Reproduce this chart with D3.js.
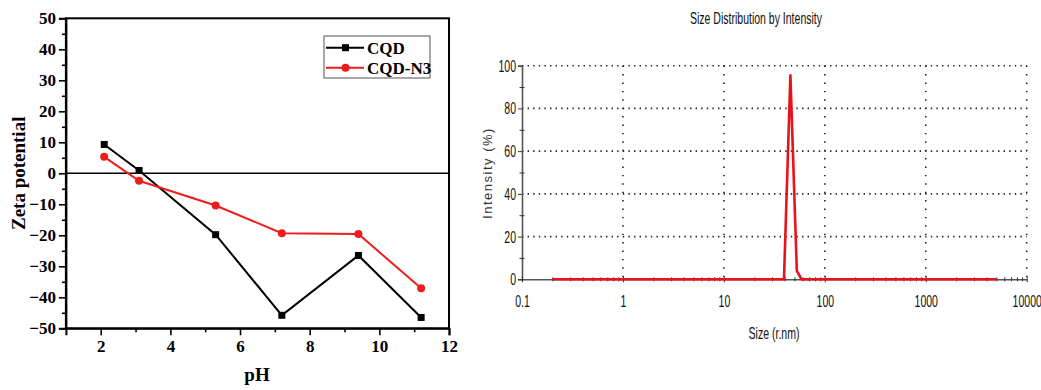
<!DOCTYPE html>
<html>
<head>
<meta charset="utf-8">
<script src="https://cdn.jsdelivr.net/npm/d3@7"></script>
<style>
  html, body { margin: 0; padding: 0; background: #fff; }
  svg { display: block; }
</style>
</head>
<body>
<svg id="fig" width="1041" height="390"></svg>
<script>
// ---- Zeta potential vs pH ----
const phCQD = [2.1, 3.1, 5.3, 7.2, 9.4, 11.2];
const zetaCQD = [9.3, 0.9, -19.8, -45.8, -26.5, -46.5];
const phCQDN3 = [2.1, 3.1, 5.3, 7.2, 9.4, 11.2];
const zetaCQDN3 = [5.3, -2.4, -10.4, -19.3, -19.6, -37.1];
const phTicks = [2, 4, 6, 8, 10, 12];
const zetaTicks = [-50, -40, -30, -20, -10, 0, 10, 20, 30, 40, 50];
const seriesNames = ["CQD", "CQD-N3"];

// ---- Size distribution by intensity ----
const sizeNm = [0.2, 39.4, 45.6, 52.8, 58.8, 5000];
const intensityPct = [0, 0, 95.5, 4, 0, 0];
const sizeTicks = [0.1, 1, 10, 100, 1000, 10000];
const intensityTicks = [0, 20, 40, 60, 80, 100];

const svg = d3.select("#fig");

/* ================= Left panel ================= */
const serif = "'Liberation Serif', 'Times New Roman', serif";
const xL = d3.scaleLinear().domain([1, 12]).range([65.9, 449]);
const yL = d3.scaleLinear().domain([-50, 50]).range([328.3, 18.3]);
const gL = svg.append("g");

// frame
gL.append("rect")
  .attr("x", xL(1)).attr("y", yL(50))
  .attr("width", xL(12) - xL(1)).attr("height", yL(-50) - yL(50))
  .attr("fill", "none").attr("stroke", "#000").attr("stroke-width", 2);

// zero line
gL.append("line")
  .attr("x1", xL(1)).attr("x2", xL(12))
  .attr("y1", yL(0)).attr("y2", yL(0))
  .attr("stroke", "#000").attr("stroke-width", 1.6);

// y axis: major ticks + minor ticks
gL.append("g").attr("transform", `translate(${xL(1)},0)`)
  .call(d3.axisLeft(yL).tickValues(zetaTicks).tickSize(7).tickPadding(3));
gL.append("g").attr("transform", `translate(${xL(1)},0)`)
  .call(d3.axisLeft(yL).tickValues(d3.range(-45, 50, 10)).tickSize(4).tickFormat(""))
  .call(g => g.select(".domain").remove());

gL.append("g").attr("transform", `translate(0,${yL(-50)})`)
  .call(d3.axisBottom(xL).tickValues(phTicks).tickSize(7).tickPadding(5));
gL.append("g").attr("transform", `translate(0,${yL(-50)})`)
  .call(d3.axisBottom(xL).tickValues([3, 5, 7, 9, 11]).tickSize(4).tickFormat(""))
  .call(g => g.select(".domain").remove());

gL.selectAll(".domain").attr("stroke", "#000").attr("stroke-width", 2);
gL.selectAll(".tick line").attr("stroke", "#000").attr("stroke-width", 1.6);
gL.selectAll(".tick text")
  .attr("font-family", serif).attr("font-weight", "bold")
  .attr("font-size", 17).attr("fill", "#000");

// axis titles
gL.append("text")
  .attr("transform", `translate(25,${yL(0)}) rotate(-90)`)
  .attr("text-anchor", "middle")
  .attr("font-family", serif).attr("font-weight", "bold").attr("font-size", 19)
  .text("Zeta potential");
gL.append("text")
  .attr("x", 257).attr("y", 381)
  .attr("text-anchor", "middle")
  .attr("font-family", serif).attr("font-weight", "bold").attr("font-size", 19)
  .text("pH");

// series
const lineL = d3.line().x(d => xL(d[0])).y(d => yL(d[1]));
const cqd = phCQD.map((p, i) => [p, zetaCQD[i]]);
const cqdN3 = phCQDN3.map((p, i) => [p, zetaCQDN3[i]]);
const blk = "#000", red = "#ee1c1c";

gL.append("path").datum(cqd).attr("d", lineL)
  .attr("fill", "none").attr("stroke", blk).attr("stroke-width", 2);
gL.append("path").datum(cqdN3).attr("d", lineL)
  .attr("fill", "none").attr("stroke", red).attr("stroke-width", 2);
gL.selectAll(".sq").data(cqd).join("rect")
  .attr("x", d => xL(d[0]) - 3.5).attr("y", d => yL(d[1]) - 3.5)
  .attr("width", 7).attr("height", 7).attr("fill", blk);
gL.selectAll(".ci").data(cqdN3).join("circle")
  .attr("cx", d => xL(d[0])).attr("cy", d => yL(d[1]))
  .attr("r", 4).attr("fill", red);

// legend
const leg = gL.append("g");
leg.append("rect").attr("x", 324).attr("y", 36).attr("width", 106).attr("height", 42)
  .attr("fill", "#fff").attr("stroke", "#555").attr("stroke-width", 1);
[[blk, 47.7, "sq"], [red, 67.7, "ci"]].forEach(([c, y, m], i) => {
  leg.append("line").attr("x1", 326).attr("x2", 364).attr("y1", y).attr("y2", y)
    .attr("stroke", c).attr("stroke-width", 2);
  if (m === "sq") {
    leg.append("rect").attr("x", 342).attr("y", y - 3.5).attr("width", 7).attr("height", 7).attr("fill", c);
  } else {
    leg.append("circle").attr("cx", 345.5).attr("cy", y).attr("r", 4).attr("fill", c);
  }
  leg.append("text").attr("x", 367).attr("y", y + 6)
    .attr("font-family", serif).attr("font-weight", "bold").attr("font-size", 17)
    .text(seriesNames[i]);
});

/* ================= Right panel ================= */
const sans = "'Liberation Sans', Arial, sans-serif";
const narrow = 0.62;   // horizontal squeeze for the condensed tick lettering
const xR = d3.scaleLog().domain([0.1, 10000]).range([522, 1026.7]);
const yR = d3.scaleLinear().domain([0, 100]).range([279.3, 65.7]);
const gR = svg.append("g");

// dotted grid
const grid = gR.append("g").attr("stroke", "#222").attr("stroke-width", 1.6)
  .attr("stroke-dasharray", "1.4,4.2");
grid.selectAll(".h").data(intensityTicks.filter(v => v > 0)).join("line")
  .attr("x1", xR(0.1)).attr("x2", xR(10000))
  .attr("y1", d => yR(d)).attr("y2", d => yR(d));
grid.selectAll(".v").data(sizeTicks.filter(v => v > 0.1)).join("line")
  .attr("x1", d => xR(d)).attr("x2", d => xR(d))
  .attr("y1", yR(100)).attr("y2", yR(0))
  .attr("stroke-dasharray", "1.4,7");

const axisGray = "#555";
// left axis
const yAxR = gR.append("g").attr("transform", `translate(${xR(0.1)},0)`)
  .call(d3.axisLeft(yR).tickValues(intensityTicks).tickSize(4).tickPadding(2)
    .tickFormat(d3.format("d")));
gR.append("g").attr("transform", `translate(${xR(0.1) + 2.5},0)`)
  .call(d3.axisLeft(yR).tickValues([10, 30, 50, 70, 90]).tickSize(5).tickFormat(""))
  .call(g => g.select(".domain").remove());

// bottom axis with log minor ticks
gR.append("g").attr("transform", `translate(0,${yR(0)})`)
  .call(d3.axisBottom(xR).tickValues(sizeTicks).tickSize(0).tickPadding(16)
    .tickFormat(d => d >= 1 ? d3.format("d")(d) : "0.1"));
const minor = [];
sizeTicks.slice(0, -1).forEach(t => { for (let k = 2; k <= 9; k++) minor.push(t * k); });
gR.append("g").attr("transform", `translate(0,${yR(0) + 2})`)
  .call(d3.axisTop(xR).tickValues(minor).tickSize(4).tickFormat(""))
  .call(g => g.select(".domain").remove());
gR.append("g").attr("transform", `translate(0,${yR(0) + 3})`)
  .call(d3.axisTop(xR).tickValues(sizeTicks).tickSize(6).tickFormat(""))
  .call(g => g.select(".domain").remove());

gR.selectAll(".domain").attr("stroke", axisGray).attr("stroke-width", 1.6);
gR.selectAll(".tick line").attr("stroke", "#333").attr("stroke-width", 1);
gR.selectAll(".tick text")
  .attr("font-family", sans).attr("font-size", 17).attr("fill", "#111")
  .attr("transform", `scale(${narrow},1)`);
// keep the squeezed y labels ending just left of their ticks
yAxR.selectAll(".tick text").attr("x", -6 / narrow);

// title and axis labels
gR.append("text")
  .attr("x", 756).attr("y", 24).attr("text-anchor", "middle")
  .attr("font-family", sans).attr("font-size", 16).attr("fill", "#111")
  .attr("textLength", 132).attr("lengthAdjust", "spacingAndGlyphs")
  .text("Size Distribution by Intensity");
gR.append("text")
  .attr("x", 774).attr("y", 339).attr("text-anchor", "middle")
  .attr("font-family", sans).attr("font-size", 17).attr("fill", "#111")
  .attr("textLength", 51).attr("lengthAdjust", "spacingAndGlyphs")
  .text("Size (r.nm)");
gR.append("text")
  .attr("transform", `translate(492,173) rotate(-90)`).attr("text-anchor", "middle")
  .attr("font-family", sans).attr("font-size", 13).attr("fill", "#333")
  .attr("letter-spacing", 1.5)
  .text("Intensity (%)");

// distribution curve
const lineR = d3.line().x(d => xR(d[0])).y(d => yR(d[1]));
gR.append("path").datum(sizeNm.map((s, i) => [s, intensityPct[i]]))
  .attr("d", lineR).attr("fill", "none")
  .attr("stroke", "#e8121a").attr("stroke-width", 2.6).attr("stroke-linejoin", "round");
</script>
</body>
</html>
